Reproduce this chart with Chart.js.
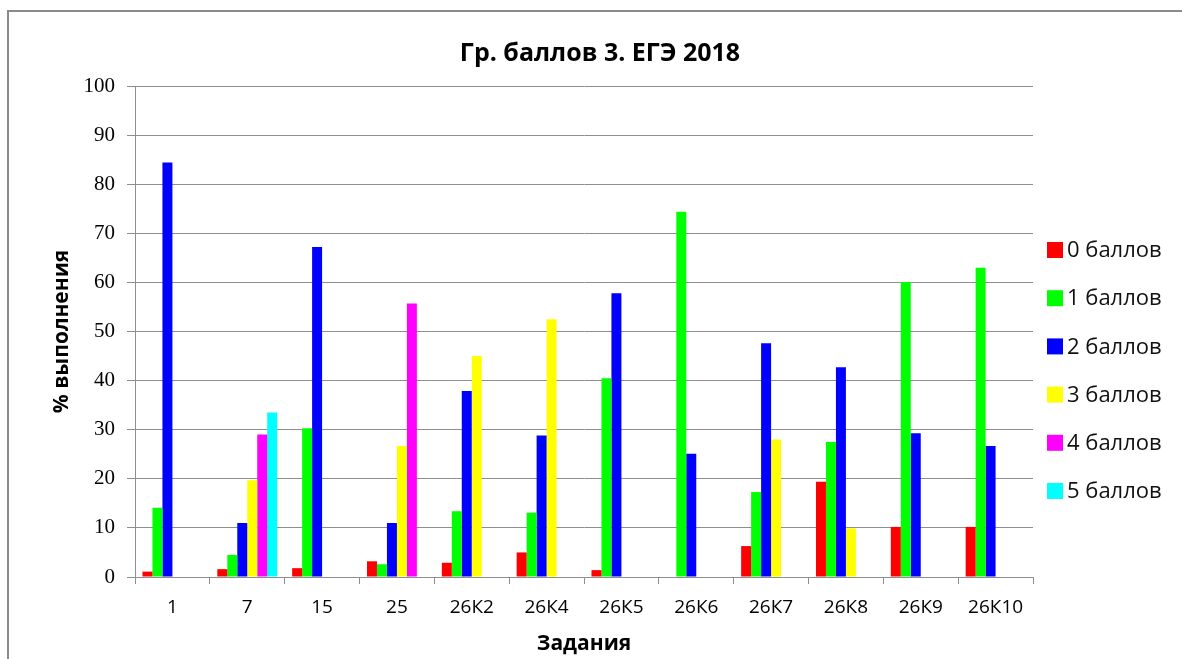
<!DOCTYPE html>
<html>
<head>
<meta charset="utf-8">
<script src="https://cdn.jsdelivr.net/npm/chart.js@4/dist/chart.umd.min.js"></script>
<style>
  html, body { margin: 0; padding: 0; background: #fff; overflow: hidden; }
  canvas { display: block; }
</style>
</head>
<body>
<canvas id="c" width="1182" height="659"></canvas>
<script>
const chartTitle = "Гр. баллов 3. ЕГЭ 2018";
const xTitle = "Задания";
const yTitle = "% выполнения";
const categories = ["1", "7", "15", "25", "26К2", "26К4", "26К5", "26К6", "26К7", "26К8", "26К9", "26К10"];
const seriesNames = ["0 баллов", "1 баллов", "2 баллов", "3 баллов", "4 баллов", "5 баллов"];
const seriesColors = ["#FF0000", "#00FF00", "#0000FF", "#FFFF00", "#FF00FF", "#00FFFF"];
const score0 = [1.1, 1.6, 1.8, 3.2, 2.9, 5.0, 1.4, null, 6.3, 19.4, 10.2, 10.2];
const score1 = [14.1, 4.5, 30.3, 2.6, 13.4, 13.1, 40.5, 74.4, 17.3, 27.5, 60.1, 63.0];
const score2 = [84.4, 11.0, 67.2, 11.0, 37.9, 28.8, 57.8, 25.1, 47.6, 42.7, 29.3, 26.7];
const score3 = [null, 19.7, null, 26.7, 45.0, 52.5, null, null, 28.0, 9.9, null, null];
const score4 = [null, 29.0, null, 55.7, null, null, null, null, null, null, null, null];
const score5 = [null, 33.5, null, null, null, null, null, null, null, null, null, null];
const yTicks = [0, 10, 20, 30, 40, 50, 60, 70, 80, 90, 100];

const seriesValues = [score0, score1, score2, score3, score4, score5];
const gridColor = "#8e8e8e";

const overlay = {
  id: "overlay",
  beforeDraw(chart) {
    const ctx = chart.ctx;
    ctx.save();
    ctx.fillStyle = "#fff";
    ctx.fillRect(0, 0, chart.width, chart.height);
    ctx.strokeStyle = "#8a8a8a";
    ctx.lineWidth = 2;
    ctx.beginPath();
    ctx.moveTo(8, chart.height + 2);
    ctx.lineTo(8, 11);
    ctx.lineTo(chart.width + 2, 11);
    ctx.stroke();
    ctx.restore();
  },
  afterDraw(chart) {
    const ctx = chart.ctx;
    ctx.save();
    ctx.fillStyle = "#000";
    ctx.font = "bold 25px 'Open Sans'";
    ctx.textAlign = "center";
    ctx.textBaseline = "middle";
    ctx.fillText(chartTitle, 600, 54);
    ctx.font = "22px 'Open Sans'";
    ctx.textAlign = "left";
    chart.data.datasets.forEach((ds, i) => {
      const y = 250 + i * 48.2;
      ctx.fillStyle = ds.backgroundColor;
      ctx.fillRect(1047, y - 8, 16, 16);
      ctx.fillStyle = "#111";
      ctx.fillText(ds.label, 1067, y + 1);
    });
    ctx.restore();
  }
};

new Chart(document.getElementById("c"), {
  type: "bar",
  data: {
    labels: categories,
    datasets: seriesNames.map((name, i) => ({
      label: name,
      data: seriesValues[i],
      backgroundColor: seriesColors[i],
      borderWidth: 0,
      categoryPercentage: 0.8,
      barPercentage: 1.0
    }))
  },
  options: {
    responsive: false,
    animation: false,
    layout: { padding: { top: 86, right: 149, bottom: 0, left: 0 } },
    plugins: {
      legend: { display: false },
      title: { display: false },
      tooltip: { enabled: false }
    },
    scales: {
      x: {
        afterFit(scale) { scale.height = 82; },
        grid: { display: true, drawOnChartArea: false, drawTicks: true, tickLength: 7, color: gridColor, offset: true },
        border: { display: true, color: gridColor, width: 1 },
        ticks: { color: "#000", font: { family: "'Open Sans'", size: 19 }, padding: 12, maxRotation: 0, autoSkip: false },
        title: { display: true, text: xTitle, color: "#000", font: { family: "'Open Sans'", size: 21, weight: "bold" }, padding: { top: 0, bottom: 2 } }
      },
      y: {
        min: 0, max: 100,
        afterFit(scale) { scale.width = 135; },
        afterBuildTicks(scale) { scale.ticks = yTicks.map(v => ({ value: v })); },
        grid: { color: gridColor, lineWidth: 1, tickLength: 8, drawTicks: true },
        border: { display: true, color: gridColor, width: 1 },
        ticks: { color: "#000", font: { family: "'Liberation Serif'", size: 21 }, padding: 12 },
        title: { display: true, text: yTitle, color: "#000", font: { family: "'Open Sans'", size: 21, weight: "bold" }, padding: { top: 49, bottom: 0 } }
      }
    }
  },
  plugins: [overlay]
});
</script>
</body>
</html>
